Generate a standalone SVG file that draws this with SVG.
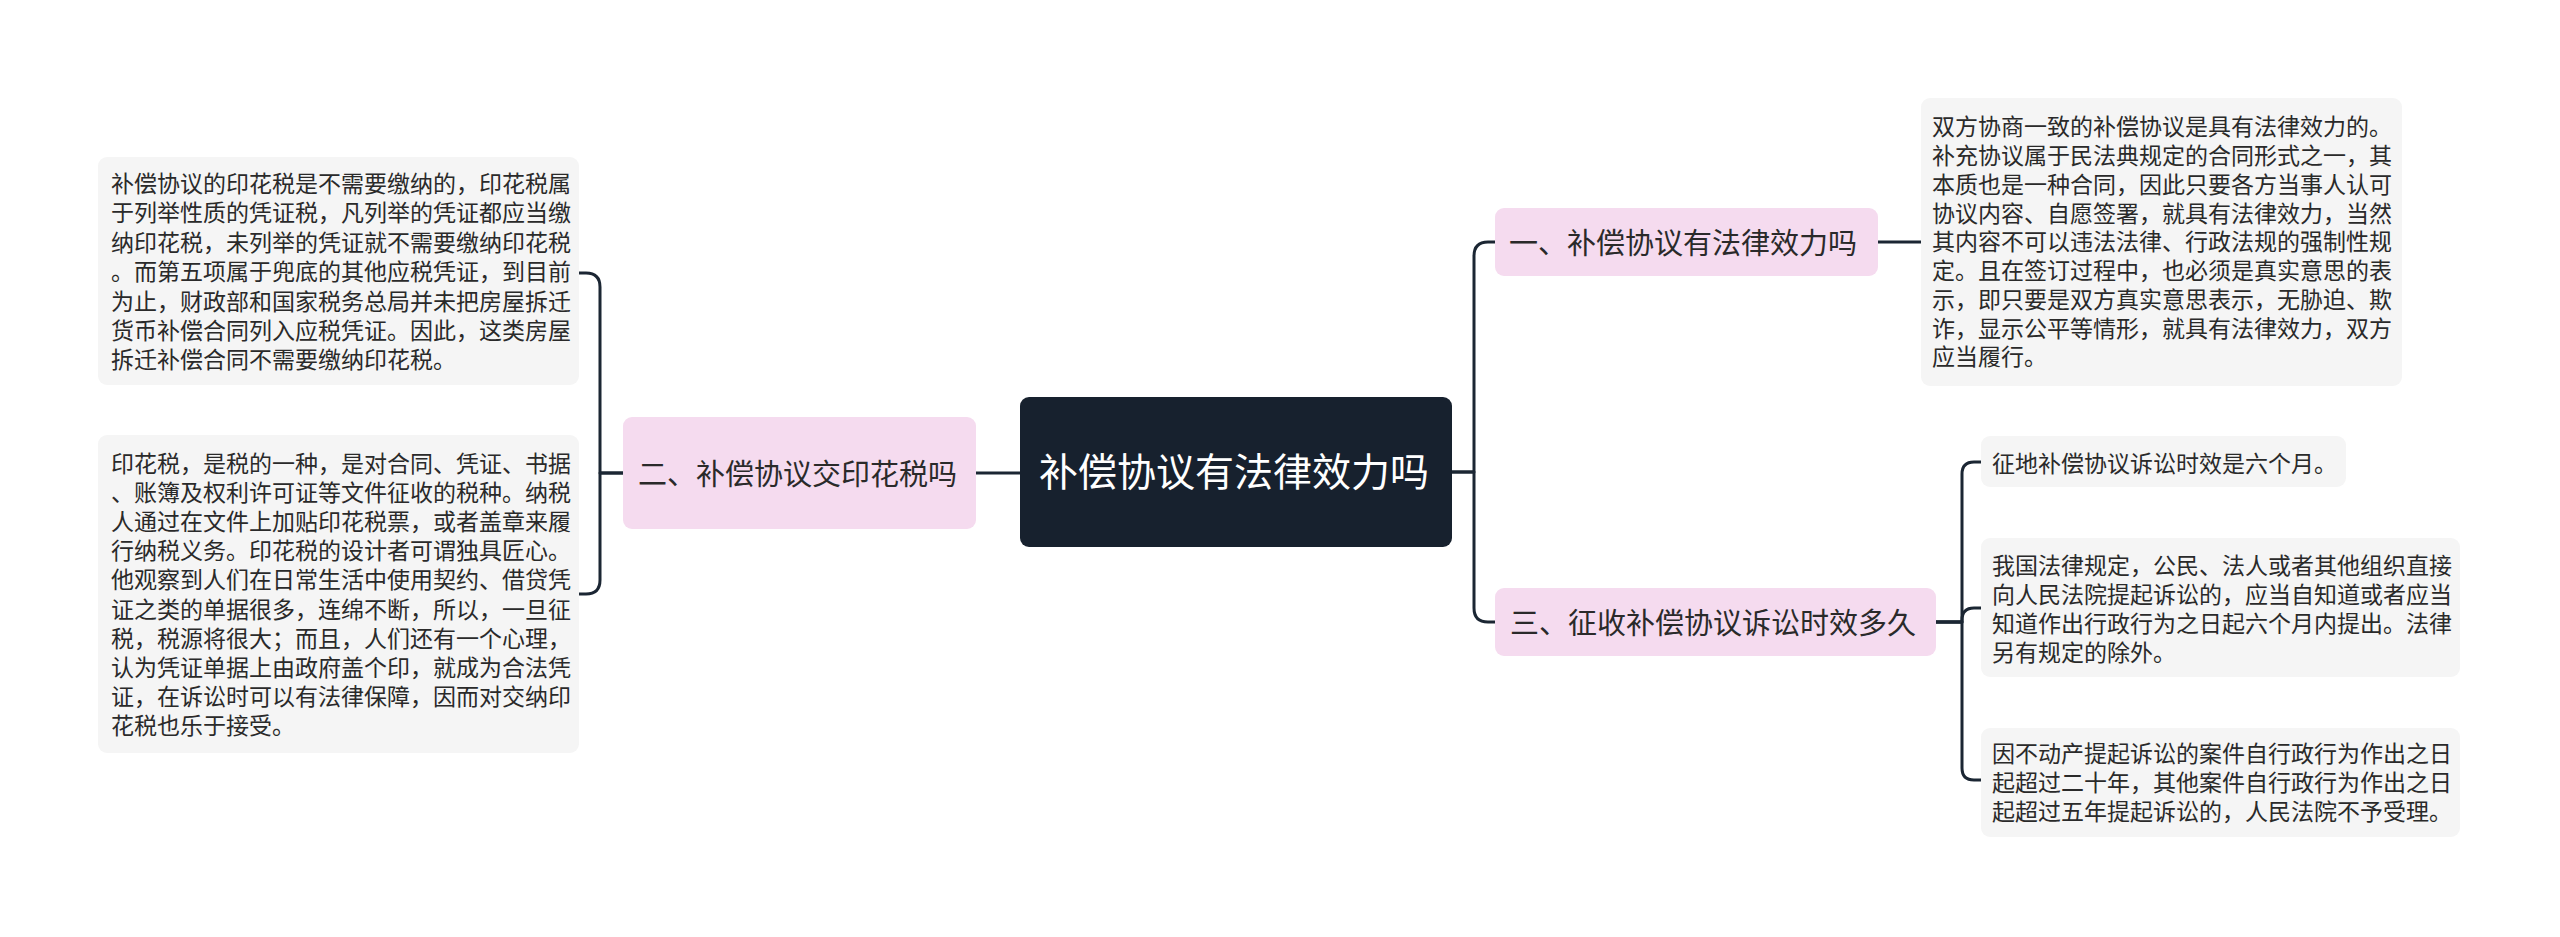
<svg xmlns="http://www.w3.org/2000/svg" width="2560" height="937" viewBox="0 0 2560 937">
<style>
.leaf{fill:#f5f5f5}
.topic{fill:#f5dbef}
.lt{font-family:"Noto Sans CJK SC","Noto Sans",sans-serif;font-size:23px;fill:#2a2a2a}
.tt{font-family:"Noto Sans CJK SC","Noto Sans",sans-serif;font-size:29px;fill:#2a2a2a}
.ct{font-family:"Noto Sans CJK SC","Noto Sans",sans-serif;font-size:39px;fill:#ffffff}
.con{fill:none;stroke:#1b2633;stroke-width:3;stroke-linecap:round;stroke-linejoin:round}
</style>
<rect width="2560" height="937" fill="#ffffff"/>
<g id="connectors">
<path class="con" d="M1020 473 H976"/>
<path class="con" d="M623 473 H600 V287 Q600 273 586 273 H579"/>
<path class="con" d="M623 473 H600 V580 Q600 594 586 594 H579"/>
<path class="con" d="M1452 472 H1474 V256 Q1474 242 1488 242 H1495"/>
<path class="con" d="M1452 472 H1474 V608 Q1474 622 1488 622 H1495"/>
<path class="con" d="M1878 242 H1921"/>
<path class="con" d="M1936 622 H1962 V474 Q1962 462 1974 462 H1981"/>
<path class="con" d="M1936 622 H1962 V620 Q1962 608 1974 608 H1981"/>
<path class="con" d="M1936 622 H1962 V768 Q1962 780 1974 780 H1981"/>
</g>
<g id="center">
<rect x="1020" y="397" width="432" height="150" rx="9" fill="#17212e"/>
<text class="ct" x="1039" y="486">补偿协议有法律效力吗</text>
</g>
<g id="topic2">
<rect class="topic" x="623" y="417" width="353" height="112" rx="9"/>
<text class="tt" x="638" y="485">二、补偿协议交印花税吗</text>
</g>
<g id="topic1">
<rect class="topic" x="1495" y="208" width="383" height="68" rx="9"/>
<text class="tt" x="1509" y="254">一、补偿协议有法律效力吗</text>
</g>
<g id="topic3">
<rect class="topic" x="1495" y="588" width="441" height="68" rx="9"/>
<text class="tt" x="1510" y="634">三、征收补偿协议诉讼时效多久</text>
</g>
<g id="leaf2a">
<rect class="leaf" x="98" y="157" width="481" height="228" rx="9"/>
<text class="lt">
<tspan x="111" y="192">补偿协议的印花税是不需要缴纳的，印花税属</tspan>
<tspan x="111" y="221.4">于列举性质的凭证税，凡列举的凭证都应当缴</tspan>
<tspan x="111" y="250.8">纳印花税，未列举的凭证就不需要缴纳印花税</tspan>
<tspan x="111" y="280.2">。而第五项属于兜底的其他应税凭证，到目前</tspan>
<tspan x="111" y="309.6">为止，财政部和国家税务总局并未把房屋拆迁</tspan>
<tspan x="111" y="339">货币补偿合同列入应税凭证。因此，这类房屋</tspan>
<tspan x="111" y="368.4">拆迁补偿合同不需要缴纳印花税。</tspan>
</text>
</g>
<g id="leaf2b">
<rect class="leaf" x="98" y="435" width="481" height="318" rx="9"/>
<text class="lt">
<tspan x="111" y="472">印花税，是税的一种，是对合同、凭证、书据</tspan>
<tspan x="111" y="501.1">、账簿及权利许可证等文件征收的税种。纳税</tspan>
<tspan x="111" y="530.2">人通过在文件上加贴印花税票，或者盖章来履</tspan>
<tspan x="111" y="559.3">行纳税义务。印花税的设计者可谓独具匠心。</tspan>
<tspan x="111" y="588.4">他观察到人们在日常生活中使用契约、借贷凭</tspan>
<tspan x="111" y="617.5">证之类的单据很多，连绵不断，所以，一旦征</tspan>
<tspan x="111" y="646.6">税，税源将很大；而且，人们还有一个心理，</tspan>
<tspan x="111" y="675.7">认为凭证单据上由政府盖个印，就成为合法凭</tspan>
<tspan x="111" y="704.8">证，在诉讼时可以有法律保障，因而对交纳印</tspan>
<tspan x="111" y="733.9">花税也乐于接受。</tspan>
</text>
</g>
<g id="leaf1">
<rect class="leaf" x="1921" y="98" width="481" height="288" rx="9"/>
<text class="lt">
<tspan x="1932" y="135.4">双方协商一致的补偿协议是具有法律效力的。</tspan>
<tspan x="1932" y="164.1">补充协议属于民法典规定的合同形式之一，其</tspan>
<tspan x="1932" y="192.9">本质也是一种合同，因此只要各方当事人认可</tspan>
<tspan x="1932" y="221.6">协议内容、自愿签署，就具有法律效力，当然</tspan>
<tspan x="1932" y="250.4">其内容不可以违法法律、行政法规的强制性规</tspan>
<tspan x="1932" y="279.1">定。且在签订过程中，也必须是真实意思的表</tspan>
<tspan x="1932" y="307.9">示，即只要是双方真实意思表示，无胁迫、欺</tspan>
<tspan x="1932" y="336.6">诈，显示公平等情形，就具有法律效力，双方</tspan>
<tspan x="1932" y="365.4">应当履行。</tspan>
</text>
</g>
<g id="leaf3a">
<rect class="leaf" x="1981" y="436" width="365" height="51" rx="9"/>
<text class="lt" x="1992" y="471.7">征地补偿协议诉讼时效是六个月。</text>
</g>
<g id="leaf3b">
<rect class="leaf" x="1981" y="538" width="479" height="139" rx="9"/>
<text class="lt">
<tspan x="1992" y="573.7">我国法律规定，公民、法人或者其他组织直接</tspan>
<tspan x="1992" y="602.7">向人民法院提起诉讼的，应当自知道或者应当</tspan>
<tspan x="1992" y="631.7">知道作出行政行为之日起六个月内提出。法律</tspan>
<tspan x="1992" y="660.7">另有规定的除外。</tspan>
</text>
</g>
<g id="leaf3c">
<rect class="leaf" x="1981" y="728" width="479" height="109" rx="9"/>
<text class="lt">
<tspan x="1992" y="762">因不动产提起诉讼的案件自行政行为作出之日</tspan>
<tspan x="1992" y="791">起超过二十年，其他案件自行政行为作出之日</tspan>
<tspan x="1992" y="820">起超过五年提起诉讼的，人民法院不予受理。</tspan>
</text>
</g>
</svg>
